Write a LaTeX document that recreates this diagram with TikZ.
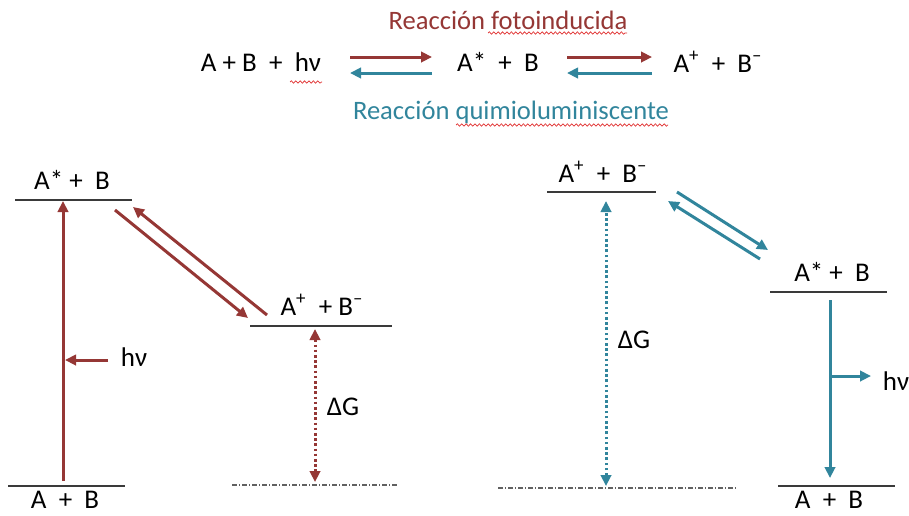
\documentclass[tikz,border=0pt]{standalone}
\usepackage{fontspec}
\setmainfont{Carlito}
\usetikzlibrary{arrows.meta,positioning,decorations.pathmorphing}
\definecolor{PhotoRed}{HTML}{953735}
\definecolor{ChemiTeal}{HTML}{31859C}
\definecolor{LevelGray}{HTML}{3A3A3A}
\definecolor{SpellRed}{HTML}{E03030}

\begin{document}
\begin{tikzpicture}[>={Triangle[length=5.5pt,width=5.2pt]},x=0.5pt,y=-0.5pt,
    lbl/.style={inner sep=0pt,font=\fontsize{13.5}{15}\selectfont},
    eqn/.style={inner sep=0pt,font=\fontsize{13.5}{15}\selectfont},
    ttl/.style={inner sep=0pt,font=\fontsize{13.3}{15}\selectfont},
    lvl/.style={draw=LevelGray,line width=0.75pt},
    base/.style={draw=LevelGray!80,line width=0.6pt,dash pattern=on 2.4pt off 1pt on 0.6pt off 1pt},
    rxn/.style={->,line width=1.5pt},
    gap/.style={<->,line width=1.5pt,dash pattern=on 1.3pt off 1.3pt},
    spell/.style={SpellRed,line width=0.35pt,decorate,decoration={snake,amplitude=0.6pt,segment length=2.2pt}}]
  \useasboundingbox (0,0) rectangle (909,515);

  % top scheme
  \node[ttl,PhotoRed] (tphoto) at (508,20) {Reacción fotoinducida};
  \node[ttl,ChemiTeal] (tchemi) at (511,112) {Reacción quimioluminiscente};
  \node[eqn] (eAB) at (261,62) {A + B \ +\ \ hν};
  \node[eqn] (eAs) at (498,62) {A* \ + \ B};
  \node[eqn] (eAp) at (718,62) {A\textsuperscript{+} \ + \ B\textsuperscript{–}};
  \coordinate (a1) at (350,57);  \coordinate (b1) at (432,57);
  \coordinate (a2) at (350,73);  \coordinate (b2) at (432,73);
  \coordinate (c1) at (567,57);  \coordinate (d1) at (652,57);
  \coordinate (c2) at (567,73);  \coordinate (d2) at (652,73);
  \draw[rxn,PhotoRed] (a1) -- (b1);
  \draw[rxn,ChemiTeal] (b2) -- (a2);
  \draw[rxn,PhotoRed] (c1) -- (d1);
  \draw[rxn,ChemiTeal] (d2) -- (c2);
  \draw[spell] (290,82) -- (322,82);
  \draw[spell] (488,33) -- (627,33);
  \draw[spell] (456,125) -- (668,125);

  % left: photoinduced
  \node[lbl] (lAs) at (72,180) {A* + \ B};
  \node[lbl] (lAp) at (322,305) {A\textsuperscript{+} \ + B\textsuperscript{–}};
  \node[lbl] (lAB) at (65,500) {A \ + \ B};
  \draw[lvl] (15,200) -- (132,200);
  \draw[lvl] (250,326) -- (392,326);
  \draw[lvl] (8,486) -- (125,486);
  \draw[base] (232,485) -- (398,485);
  \coordinate (lup0) at (63,481);  \coordinate (lup1) at (63,201);
  \draw[rxn,PhotoRed] (lup0) -- (lup1);
  \node[lbl] (lhv) at (134,357) {hν};
  \coordinate (lhv0) at (108,360);  \coordinate (lhv1) at (65,360);
  \draw[rxn,PhotoRed] (lhv0) -- (lhv1);
  \coordinate (ld0) at (115,210);  \coordinate (ld1) at (248,318);
  \coordinate (ld2) at (267,315);  \coordinate (ld3) at (133,207);
  \draw[rxn,PhotoRed] (ld0) -- (ld1);
  \draw[rxn,PhotoRed] (ld2) -- (ld3);
  \coordinate (lg0) at (315,329);  \coordinate (lg1) at (315,482);
  \draw[gap,PhotoRed] (lg0) -- (lg1);
  \node[lbl] (lG) at (343,407) {ΔG};

  % right: chemiluminescent
  \node[lbl] (rAp) at (603,172) {A\textsuperscript{+} \ + \ B\textsuperscript{–}};
  \node[lbl] (rAs) at (832,272) {A* + \ B};
  \node[lbl] (rAB) at (829,500) {A \ + \ B};
  \draw[lvl] (547,192) -- (656,192);
  \draw[lvl] (770,292) -- (887,292);
  \draw[lvl] (778,486) -- (895,486);
  \draw[base] (498,488) -- (736,488);
  \coordinate (rg0) at (606,201);  \coordinate (rg1) at (606,486);
  \draw[gap,ChemiTeal] (rg1) -- (rg0);
  \node[lbl] (rG) at (634,340) {ΔG};
  \coordinate (rd0) at (677,192);  \coordinate (rd1) at (768,250);
  \coordinate (rd2) at (760,259);  \coordinate (rd3) at (668,201);
  \draw[rxn,ChemiTeal] (rd0) -- (rd1);
  \draw[rxn,ChemiTeal] (rd2) -- (rd3);
  \coordinate (rdn0) at (830,300);  \coordinate (rdn1) at (830,478);
  \draw[rxn,ChemiTeal] (rdn0) -- (rdn1);
  \coordinate (rhv0) at (830,376);  \coordinate (rhv1) at (871,376);
  \draw[rxn,ChemiTeal] (rhv0) -- (rhv1);
  \node[lbl] (rhv) at (896,381) {hν};
\end{tikzpicture}
\end{document}
